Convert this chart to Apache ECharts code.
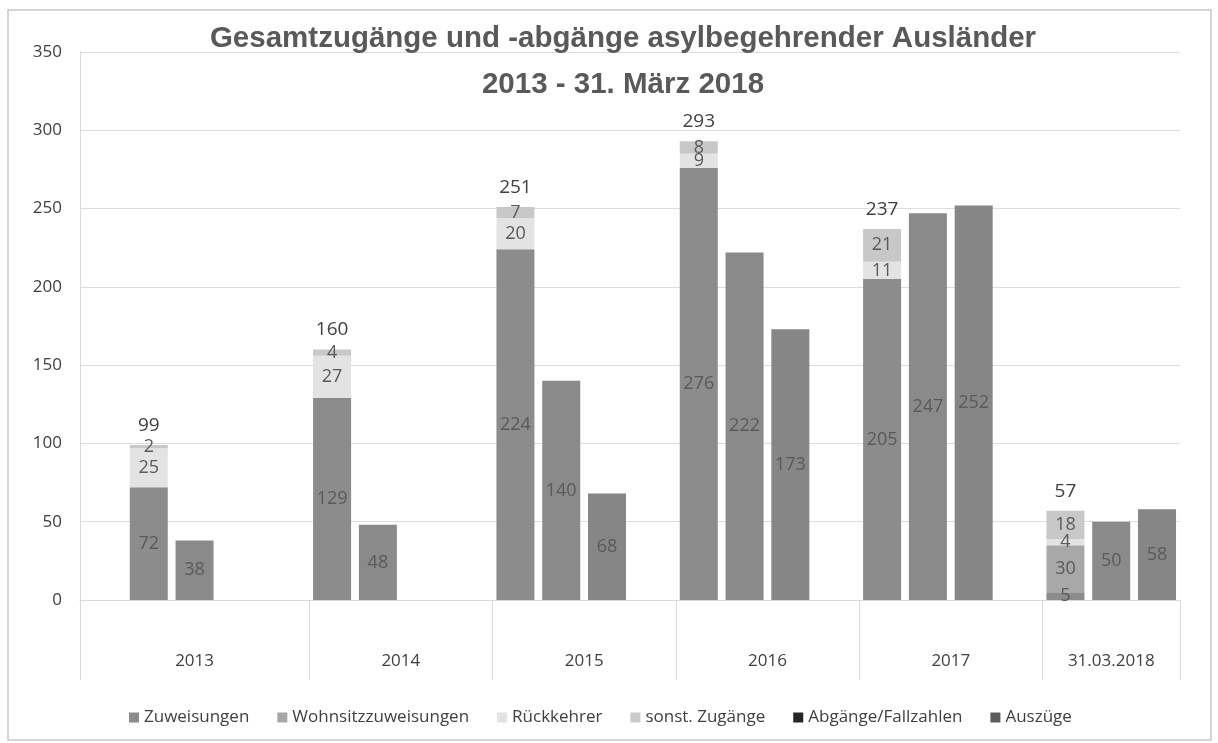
<!DOCTYPE html>
<html>
<head>
<meta charset="utf-8">
<script src="https://cdn.jsdelivr.net/npm/echarts@6/dist/echarts.min.js"></script>
<style>
html,body{margin:0;padding:0;background:#fff;}
#main{width:1218px;height:743px;}
</style>
</head>
<body>
<div id="main"></div>
<script>
// Daten
var categories = ['2013', '2014', '2015', '2016', '2017', '31.03.2018'];
var zuweisungen = [72, 129, 224, 276, 205, 5];
var wohnsitzzuweisungen = [0, 0, 0, 0, 0, 30];
var rueckkehrer = [25, 27, 20, 9, 11, 4];
var sonstZugaenge = [2, 4, 7, 8, 21, 18];
var abgaenge = [38, 48, 140, 222, 247, 50];
var auszuege = [null, null, 68, 173, 252, 58];
var yMax = 350, yStep = 50;

var totals = categories.map(function (c, i) {
  return zuweisungen[i] + wohnsitzzuweisungen[i] + rueckkehrer[i] + sonstZugaenge[i];
});

// Beschriftungsachse (Trennlinien wie im Original verschoben), Einheit = ein Balkenplatz
var sepPos = [0, 5, 9, 13, 17, 21, 24];
var labelPos = [2.5, 7, 11, 15, 19, 22.5];

var FONT = '"Open Sans", sans-serif';
var txt = '#404040';
var inLabel = {
  show: true, position: 'inside', color: '#5a5a5a', fontSize: 18, fontFamily: FONT,
  formatter: function (p) { return p.value ? p.value : ''; }
};

function stackSeries(name, data, color) {
  return {
    name: name, type: 'bar', stack: 'zu', barWidth: 38, barGap: '20.5%',
    data: data, itemStyle: { color: color }, label: inLabel
  };
}

var myChart = echarts.init(document.getElementById('main'));
var option = {
  backgroundColor: '#fff',
  animation: false,
  graphic: [{
    type: 'rect', shape: { x: 8, y: 10, width: 1203, height: 730 },
    style: { fill: 'none', stroke: '#c8c8c8', lineWidth: 1.5 }, silent: true, z: -1
  }],
  title: {
    text: 'Gesamtzugänge und -abgänge asylbegehrender Ausländer\n2013 - 31. März 2018',
    left: 618, top: 11, textAlign: 'center',
    textStyle: { fontFamily: '"Liberation Sans", sans-serif', fontWeight: 'bold', fontSize: 29.5, lineHeight: 46, color: '#595959' }
  },
  legend: {
    bottom: 12, left: 124, icon: 'rect', itemWidth: 10, itemHeight: 10, itemGap: 28,
    textStyle: { fontFamily: FONT, fontSize: 17, color: txt },
    data: [
      { name: 'Zuweisungen', itemStyle: { color: '#8c8c8c' } },
      { name: 'Wohnsitzzuweisungen', itemStyle: { color: '#a6a6a6' } },
      { name: 'Rückkehrer', itemStyle: { color: '#e3e3e3' } },
      { name: 'sonst. Zugänge', itemStyle: { color: '#cacaca' } },
      { name: 'Abgänge/Fallzahlen', itemStyle: { color: '#262626' } },
      { name: 'Auszüge', itemStyle: { color: '#5c5c5c' } }
    ]
  },
  grid: [
    { left: 80, right: 38, top: 52, bottom: 143 },
    { left: 80, right: 38, top: 52, bottom: 143 }
  ],
  xAxis: [
    {
      type: 'category', data: categories, gridIndex: 0,
      axisLine: { show: true, lineStyle: { color: '#d9d9d9' } },
      axisTick: { show: false }, axisLabel: { show: false }
    },
    {
      type: 'value', gridIndex: 1, min: 0, max: sepPos[sepPos.length - 1], position: 'bottom',
      axisLine: { show: false }, splitLine: { show: false },
      axisTick: { show: true, customValues: sepPos, length: 80, lineStyle: { color: '#d9d9d9' } },
      axisLabel: {
        customValues: labelPos, margin: 53, fontFamily: FONT, fontSize: 17, color: txt,
        formatter: function (v) { return categories[labelPos.indexOf(v)]; }
      }
    }
  ],
  yAxis: [
    {
      type: 'value', gridIndex: 0, min: 0, max: yMax, interval: yStep,
      axisLine: { show: true, lineStyle: { color: '#d9d9d9' } },
      axisTick: { show: false },
      axisLabel: { margin: 18, fontFamily: FONT, fontSize: 17, color: txt },
      splitLine: { lineStyle: { color: '#dcdcdc' } }
    },
    { type: 'value', gridIndex: 1, min: 0, max: yMax, show: false }
  ],
  series: [
    // leerer Platz links in jeder Gruppe
    { name: 'leer', type: 'bar', stack: 'leer', barWidth: 38, barGap: '20.5%', data: categories.map(function () { return null; }) },
    stackSeries('Zuweisungen', zuweisungen, '#8c8c8c'),
    stackSeries('Wohnsitzzuweisungen', wohnsitzzuweisungen, '#a8a8a8'),
    stackSeries('Rückkehrer', rueckkehrer, '#e3e3e3'),
    stackSeries('sonst. Zugänge', sonstZugaenge, '#c8c8c8'),
    {
      name: 'Gesamt', type: 'bar', stack: 'zu', barWidth: 38, barGap: '20.5%',
      data: categories.map(function () { return 0; }),
      label: {
        show: true, position: 'top', distance: 10, color: txt, fontSize: 19, fontFamily: FONT,
        formatter: function (p) { return totals[p.dataIndex]; }
      }
    },
    {
      name: 'Abgänge/Fallzahlen', type: 'bar', barWidth: 38, barGap: '20.5%',
      data: abgaenge, itemStyle: { color: '#8a8a8a' }, label: inLabel
    },
    {
      name: 'Auszüge', type: 'bar', barWidth: 38, barGap: '20.5%',
      data: auszuege, itemStyle: { color: '#868686' }, label: inLabel
    }
  ]
};
myChart.setOption(option);
</script>
</body>
</html>
